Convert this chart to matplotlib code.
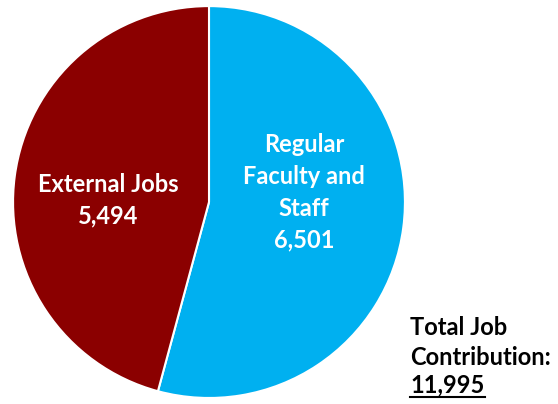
import matplotlib.pyplot as plt
import matplotlib as mpl

mpl.rcParams['font.family'] = ['Lato', 'DejaVu Sans']

labels = ["Regular\nFaculty and\nStaff", "External Jobs"]
values = [6501, 5494]
colors = ["#00B0F0", "#8B0000"]
total = sum(values)

fig = plt.figure(figsize=(5.58, 4.04), dpi=100)
ax = fig.add_axes([0.0233, 0.0149, 0.7025, 0.970])

wedges, _ = ax.pie(values, colors=colors, startangle=90, counterclock=False,
                   wedgeprops=dict(edgecolor='white', linewidth=1.5))
ax.set_xlim(-1, 1)
ax.set_ylim(-1, 1)
ax.set_aspect('equal')

ax.text(0.485, 0.05, f"{labels[0]}\n{values[0]:,}", ha='center', va='center',
        color='white', fontsize=17, fontweight='bold', linespacing=1.45)
ax.text(-0.515, 0.01, f"{labels[1]}\n{values[1]:,}", ha='center', va='center',
        color='white', fontsize=17, fontweight='bold', linespacing=1.45)

fig.text(0.735, 0.171, "Total Job", ha='left', va='baseline',
         fontsize=17, fontweight='bold')
fig.text(0.735, 0.0965, "Contribution:", ha='left', va='baseline',
         fontsize=17, fontweight='bold')
num = fig.text(0.735, 0.0297, f"{total:,}", ha='left', va='baseline',
               fontsize=17, fontweight='bold')

fig.canvas.draw()
bb = num.get_window_extent().transformed(fig.transFigure.inverted())
fig.add_artist(plt.Line2D([bb.x0, bb.x1], [0.0173, 0.0173],
                          transform=fig.transFigure, color='black', linewidth=1.5))

fig.savefig('out.png', dpi=100)
